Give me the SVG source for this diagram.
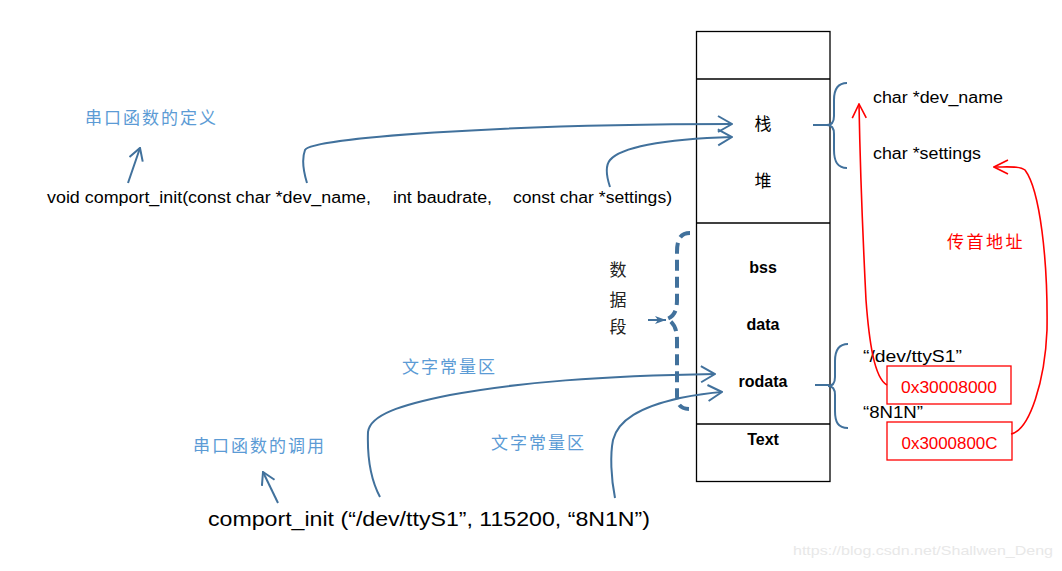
<svg xmlns="http://www.w3.org/2000/svg" width="1062" height="571" viewBox="0 0 1062 571">
<style>
.cjk{font-family:"Noto Sans CJK SC","Noto Sans",sans-serif;font-size:17px}
.lbl{fill:#5B9BD5;letter-spacing:2px}
.lat{font-family:"Liberation Sans",Arial,sans-serif;font-size:16px;fill:#000}
.seg{font-family:"Liberation Sans",Arial,sans-serif;font-size:16px;font-weight:bold;fill:#000;text-anchor:middle}
.box{fill:#fff;stroke:#000;stroke-width:1.3}
.blue{fill:none;stroke:#41719C;stroke-width:2}
.red{fill:none;stroke:#FF0000;stroke-width:1.6}
.rbox{fill:#fff;stroke:#FF0000;stroke-width:1.3}
.rtxt{font-family:"Liberation Sans",Arial,sans-serif;font-size:17px;fill:#FF0000;text-anchor:middle}
</style>
<defs>
<marker id="ab" viewBox="0 0 16 20" refX="15" refY="10" markerWidth="16" markerHeight="20" markerUnits="userSpaceOnUse" orient="auto">
<path d="M1,2 L15,10 L1,18" fill="none" stroke="#41719C" stroke-width="2"/>
</marker>
<marker id="abs" viewBox="0 0 14 16" refX="13" refY="8" markerWidth="14" markerHeight="16" markerUnits="userSpaceOnUse" orient="auto">
<path d="M1,1 L13,8 L1,15" fill="none" stroke="#41719C" stroke-width="2"/>
</marker>
<marker id="ar" viewBox="0 0 16 16" refX="15" refY="8" markerWidth="16" markerHeight="16" markerUnits="userSpaceOnUse" orient="auto">
<path d="M1,1 L15,8 L1,15" fill="none" stroke="#FF0000" stroke-width="1.6"/>
</marker>
<marker id="af" viewBox="0 0 12 10" refX="11" refY="5" markerWidth="12" markerHeight="10" markerUnits="userSpaceOnUse" orient="auto">
<path d="M0,1 L11,5 L0,9 L3,5 Z" fill="#41719C"/>
</marker>
</defs>
<rect width="1062" height="571" fill="#fff"/>

<g id="memory">
<rect class="box" x="696.5" y="31.5" width="133.5" height="450"/>
<line x1="696.5" y1="79" x2="830" y2="79" stroke="#000" stroke-width="1.3"/>
<line x1="696.5" y1="223" x2="830" y2="223" stroke="#000" stroke-width="1.3"/>
<line x1="696.5" y1="424" x2="830" y2="424" stroke="#000" stroke-width="1.3"/>
<text class="cjk" x="763" y="130" text-anchor="middle">栈</text>
<text class="cjk" x="763" y="187" text-anchor="middle">堆</text>
<text class="seg" x="763" y="273">bss</text>
<text class="seg" x="763" y="330">data</text>
<text class="seg" x="763" y="387">rodata</text>
<text class="seg" x="763" y="445">Text</text>
</g>

<g id="labels">
<text class="cjk lbl" x="85" y="124">串口函数的定义</text>
<text class="cjk lbl" x="193" y="452">串口函数的调用</text>
<text class="cjk lbl" x="402" y="373">文字常量区</text>
<text class="cjk lbl" x="491" y="449">文字常量区</text>
<text class="cjk" x="618" y="276" text-anchor="middle" fill="#222">数</text>
<text class="cjk" x="618" y="306" text-anchor="middle" fill="#222">据</text>
<text class="cjk" x="618" y="333" text-anchor="middle" fill="#222">段</text>
<text class="cjk" x="947" y="248" fill="#FF0000" style="letter-spacing:2.5px">传首地址</text>
</g>

<g id="code">
<text class="lat" x="47" y="203" textLength="324" lengthAdjust="spacingAndGlyphs">void comport_init(const char *dev_name,</text>
<text class="lat" x="393" y="203" textLength="99" lengthAdjust="spacingAndGlyphs">int baudrate,</text>
<text class="lat" x="513" y="203" textLength="159" lengthAdjust="spacingAndGlyphs">const char *settings)</text>
<text class="lat" x="208" y="526" style="font-size:20px" textLength="442" lengthAdjust="spacingAndGlyphs">comport_init (“/dev/ttyS1”, 115200,  “8N1N”)</text>
</g>

<g id="stack-vars">
<text class="lat" x="873" y="103" textLength="130" lengthAdjust="spacingAndGlyphs">char *dev_name</text>
<text class="lat" x="873" y="159" textLength="108" lengthAdjust="spacingAndGlyphs">char *settings</text>
</g>

<g id="rodata-vars">
<text class="lat" x="863" y="362" textLength="99" lengthAdjust="spacingAndGlyphs">“/dev/ttyS1”</text>
<text class="lat" x="863" y="418" textLength="60" lengthAdjust="spacingAndGlyphs">“8N1N”</text>
</g>

<g id="addr1">
<rect class="rbox" x="887" y="366" width="124" height="38"/>
<text class="rtxt" x="949" y="393" textLength="96" lengthAdjust="spacingAndGlyphs">0x30008000</text>
</g>
<g id="addr2">
<rect class="rbox" x="887" y="422" width="125" height="38"/>
<text class="rtxt" x="949.5" y="449" textLength="96" lengthAdjust="spacingAndGlyphs">0x3000800C</text>
</g>

<g id="connectors">
<path class="blue" d="M847,83 C837,83 834,90 834,100 V116 Q834,125 827,125 Q834,125 834,134 V150 C834,161 837,168 847,168"/>
<path class="blue" d="M813,125 H828"/>
<path class="blue" d="M848,344 C838,344 835,351 835,361 V377 Q835,386 828,386 Q835,386 835,395 V411 C835,422 838,428 848,428"/>
<path class="blue" d="M815,385 H829"/>
<path fill="none" stroke="#41719C" stroke-width="4" stroke-dasharray="11,6" d="M690,233 C680,233 677,240 677,252 V300 C677,312 673,317 667,319 C673,322 677,328 677,340 V395 C677,404 680,409 690,409"/>
<path class="blue" d="M648,320 H666" marker-end="url(#af)"/>
<path class="blue" d="M307,183 C303,170 302,158 305,150 C312,138 500,124 732,124" marker-end="url(#ab)"/>
<path class="blue" d="M610,187 C606,175 605,166 610,160 C620,148 660,139 732,137" marker-end="url(#ab)"/>
<path class="blue" d="M380,497 C372,482 367,460 368,432 C370,415 400,405 450,395 C520,382 600,376 715,374" marker-end="url(#ab)"/>
<path class="blue" d="M615,498 C611,478 610,455 613,440 C618,420 640,407 680,398 C695,395 708,393 722,392" marker-end="url(#ab)"/>
<path class="blue" d="M128,183 L140,148" marker-end="url(#abs)"/>
<path class="blue" d="M278,503 L263,472" marker-end="url(#abs)"/>
<path class="red" d="M887,385 C874,378 869,340 866,300 C863,240 860,160 859,104" marker-end="url(#ar)"/>
<path class="red" d="M1011,434 C1030,430 1045,380 1047,330 C1048,260 1040,190 1025,170 C1020,166 1010,167 994,167" marker-end="url(#ar)"/>
</g>

<text x="793" y="555" font-family="Liberation Sans, Arial, sans-serif" font-size="13" fill="#e8e8e8" textLength="260" lengthAdjust="spacingAndGlyphs">https://blog.csdn.net/Shallwen_Deng</text>
</svg>
